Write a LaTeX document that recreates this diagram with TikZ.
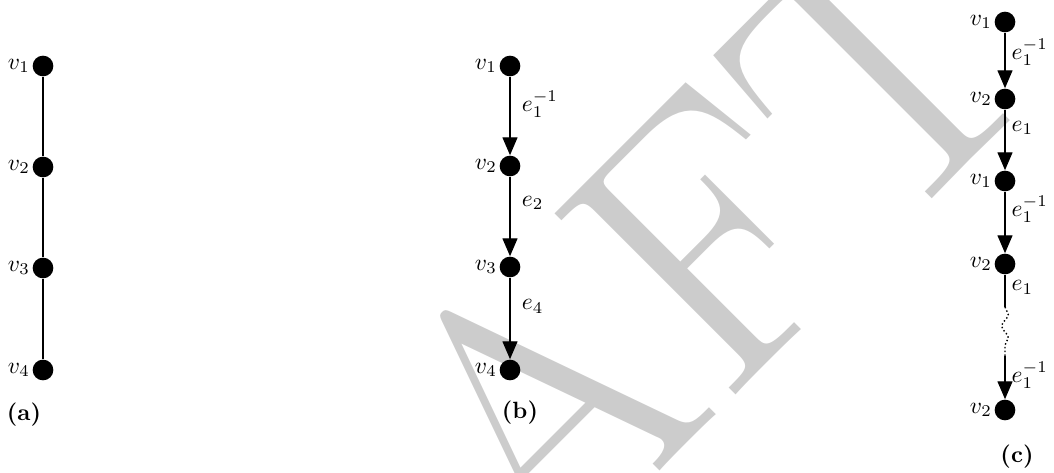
\documentclass[tikz,border=0pt]{standalone}
\usetikzlibrary{arrows.meta,decorations.pathmorphing}
\definecolor{wm}{gray}{0.8}
\tikzset{
  dot/.style={circle,fill=black,draw=none,inner sep=0pt,minimum size=8.8pt},
  edge/.style={line width=0.45pt},
  arr/.style={edge,-{Triangle[length=7.6pt,width=6.4pt]}},
  vlab/.style={anchor=east,inner sep=0.8pt},
  elab/.style={anchor=west,inner sep=0pt,xshift=4.8pt},
  elabc/.style={anchor=west,inner sep=0pt,xshift=2.6pt},
  sublabel/.style={font=\bfseries,inner sep=0pt},
  wiggle/.style={line width=0.6pt,dash pattern=on 0.6pt off 1pt,decorate,decoration={snake,amplitude=1.4pt,segment length=10pt}},
}
\begin{document}
\begin{tikzpicture}[x=0.4255pt,y=-0.4255pt]
\useasboundingbox (0,0) rectangle (1054,473);
\begin{scope}
\clip (0,0) rectangle (1054,473);
\node[text=wm,rotate=45,anchor=base,inner sep=0pt,font=\fontsize{160pt}{160pt}\selectfont] (wmk) at (615,516) {DRAFT};
\end{scope}
% (a)
\node[dot] (a1) at (43,66) {};
\node[dot] (a2) at (43,167) {};
\node[dot] (a3) at (43,268) {};
\node[dot] (a4) at (43,370) {};
\node[vlab] (la1) at (a1.west) {$v_1$};
\node[vlab] (la2) at (a2.west) {$v_2$};
\node[vlab] (la3) at (a3.west) {$v_3$};
\node[vlab] (la4) at (a4.west) {$v_4$};
\draw[edge] (a1) -- (a2) -- (a3) -- (a4);
\node[sublabel] (ca) at (24,415) {(a)};
% (b)
\node[dot] (b1) at (510,66) {};
\node[dot] (b2) at (510,166) {};
\node[dot] (b3) at (510,267) {};
\node[dot] (b4) at (510,370) {};
\node[vlab] (lb1) at (b1.west) {$v_1$};
\node[vlab] (lb2) at (b2.west) {$v_2$};
\node[vlab] (lb3) at (b3.west) {$v_3$};
\node[vlab] (lb4) at (b4.west) {$v_4$};
\draw[arr] (b1) -- node[elab,pos=0.35] (eb1) {$e_1^{-1}$} (b2);
\draw[arr] (b2) -- node[elab,pos=0.33] (eb2) {$e_2$} (b3);
\draw[arr] (b3) -- node[elab,pos=0.35] (eb3) {$e_4$} (b4);
\node[sublabel] (cb) at (520,413) {(b)};
% (c)
\node[dot] (c1) at (1005,22) {};
\node[dot] (c2) at (1005,99) {};
\node[dot] (c3) at (1005,181) {};
\node[dot] (c4) at (1005,264) {};
\node[dot] (c5) at (1005,410) {};
\node[vlab] (lc1) at (c1.west) {$v_1$};
\node[vlab] (lc2) at (c2.west) {$v_2$};
\node[vlab] (lc3) at (c3.west) {$v_1$};
\node[vlab] (lc4) at (c4.west) {$v_2$};
\node[vlab] (lc5) at (c5.west) {$v_2$};
\coordinate (w1) at (1005,307);
\coordinate (w2) at (1005,356);
\draw[arr] (c1) -- node[elabc,pos=0.35] (ec1) {$e_1^{-1}$} (c2);
\draw[arr] (c2) -- node[elabc,pos=0.3] (ec2) {$e_1$} (c3);
\draw[arr] (c3) -- node[elabc,pos=0.28] (ec3) {$e_1^{-1}$} (c4);
\draw[edge] (c4) -- node[elabc,pos=0.4] (ec4) {$e_1$} (w1);
\draw[wiggle] (w1) -- (w2);
\draw[arr] (w2) -- node[elabc,pos=0.45] (ec5) {$e_1^{-1}$} (c5);
\node[sublabel] (cc) at (1017,457) {(c)};
\end{tikzpicture}
\end{document}
